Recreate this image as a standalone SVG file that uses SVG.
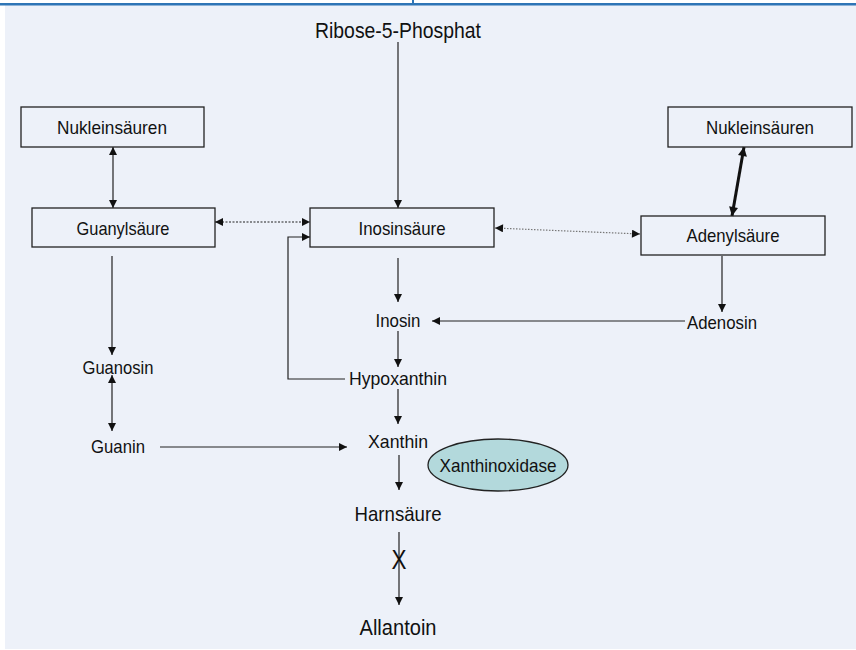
<svg xmlns="http://www.w3.org/2000/svg" width="856" height="650" viewBox="0 0 856 650">
<defs>
<style>
.t{font-family:"Liberation Sans","DejaVu Sans",sans-serif;font-size:19px;fill:#111;text-anchor:middle}
.box{fill:none;stroke:#222;stroke-width:1.3}
.ln{fill:none;stroke:#222;stroke-width:1.2}
.dot{fill:none;stroke:#222;stroke-width:1.2;stroke-dasharray:2 1.5}
.dot2{fill:none;stroke:#777;stroke-width:1.2;stroke-dasharray:1.5 1.5}
</style>
<marker id="a" viewBox="0 0 10 10" refX="10" refY="5" markerWidth="9" markerHeight="8" markerUnits="userSpaceOnUse" orient="auto-start-reverse"><path d="M0,0 L10,5 L0,10 z" fill="#111"/></marker>
<marker id="ab" viewBox="0 0 10 10" refX="10" refY="5" markerWidth="10" markerHeight="9" markerUnits="userSpaceOnUse" orient="auto-start-reverse"><path d="M0,0 L10,5 L0,10 z" fill="#111"/></marker>
</defs>
<rect x="0" y="0" width="856" height="650" fill="#ffffff"/>
<rect x="5" y="5" width="851" height="644" fill="#EDF1F9"/>
<rect x="0" y="3" width="856" height="2.5" fill="#2E75B6"/>
<rect x="412" y="0" width="2" height="5" fill="#2E75B6"/>

<g id="connectors">
<line class="ln" x1="398" y1="42" x2="398" y2="208" marker-end="url(#a)"/>
<line class="ln" x1="113" y1="147" x2="113" y2="208" marker-start="url(#a)" marker-end="url(#a)"/>
<line class="dot" x1="215" y1="222" x2="310" y2="222" marker-start="url(#a)" marker-end="url(#a)"/>
<line class="dot2" x1="495" y1="228" x2="640" y2="234" marker-start="url(#a)" marker-end="url(#a)"/>
<line x1="744" y1="147" x2="732" y2="216" stroke="#111" stroke-width="3" marker-start="url(#ab)" marker-end="url(#ab)"/>
<polyline class="ln" points="345,379 288,379 288,237 310,237" marker-end="url(#a)"/>
<line class="ln" x1="398" y1="258" x2="398" y2="302" marker-end="url(#a)"/>
<line class="ln" x1="722" y1="256" x2="722" y2="312" marker-end="url(#a)"/>
<line class="ln" x1="685" y1="321" x2="432" y2="321" marker-end="url(#a)"/>
<line class="ln" x1="398" y1="331" x2="398" y2="367" marker-end="url(#a)"/>
<line class="ln" x1="398" y1="389" x2="398" y2="424" marker-end="url(#a)"/>
<line class="ln" x1="112" y1="256" x2="112" y2="355" marker-end="url(#a)"/>
<line class="ln" x1="112" y1="375" x2="112" y2="431" marker-start="url(#a)" marker-end="url(#a)"/>
<line class="ln" x1="160" y1="447" x2="347" y2="447" marker-end="url(#a)"/>
<line class="ln" x1="399" y1="455" x2="399" y2="490" marker-end="url(#a)"/>
<line class="ln" x1="399" y1="532" x2="399" y2="605" marker-end="url(#a)"/>
</g>

<g id="ribose"><text class="t" x="398" y="38" style="font-size:21.5px" textLength="166" lengthAdjust="spacingAndGlyphs">Ribose-5-Phosphat</text></g>
<g id="nuk-left"><rect class="box" x="21" y="107" width="183" height="40"/><text class="t" x="112" y="134" textLength="110" lengthAdjust="spacingAndGlyphs">Nukleinsäuren</text></g>
<g id="guanylsaeure"><rect class="box" x="32" y="208" width="183" height="39"/><text class="t" x="123" y="235" textLength="93" lengthAdjust="spacingAndGlyphs">Guanylsäure</text></g>
<g id="inosinsaeure"><rect class="box" x="310" y="208" width="184" height="39"/><text class="t" x="402" y="235" textLength="87" lengthAdjust="spacingAndGlyphs">Inosinsäure</text></g>
<g id="nuk-right"><rect class="box" x="668" y="107" width="184" height="40"/><text class="t" x="760" y="134" textLength="108" lengthAdjust="spacingAndGlyphs">Nukleinsäuren</text></g>
<g id="adenylsaeure"><rect class="box" x="641" y="216" width="184" height="39"/><text class="t" x="733" y="242" textLength="93" lengthAdjust="spacingAndGlyphs">Adenylsäure</text></g>
<g id="adenosin"><text class="t" x="722" y="329" textLength="70" lengthAdjust="spacingAndGlyphs">Adenosin</text></g>
<g id="inosin"><text class="t" x="398" y="327" textLength="45" lengthAdjust="spacingAndGlyphs">Inosin</text></g>
<g id="hypoxanthin"><text class="t" x="398" y="385" textLength="98" lengthAdjust="spacingAndGlyphs">Hypoxanthin</text></g>
<g id="guanosin"><text class="t" x="118" y="374" textLength="71" lengthAdjust="spacingAndGlyphs">Guanosin</text></g>
<g id="guanin"><text class="t" x="118" y="453" textLength="54" lengthAdjust="spacingAndGlyphs">Guanin</text></g>
<g id="xanthin"><text class="t" x="398" y="448" textLength="60" lengthAdjust="spacingAndGlyphs">Xanthin</text></g>
<g id="xanthinoxidase"><ellipse cx="498" cy="465" rx="70" ry="26" fill="#B3D9DC" stroke="#222" stroke-width="1.3"/><text class="t" x="498" y="472" textLength="117" lengthAdjust="spacingAndGlyphs">Xanthinoxidase</text></g>
<g id="harnsaeure"><text class="t" x="398" y="521" style="font-size:21px" textLength="87" lengthAdjust="spacingAndGlyphs">Harnsäure</text></g>
<g id="block"><text class="t" x="399" y="569" style="font-size:28px" textLength="15" lengthAdjust="spacingAndGlyphs">X</text></g>
<g id="allantoin"><text class="t" x="398" y="635" style="font-size:22px" textLength="77" lengthAdjust="spacingAndGlyphs">Allantoin</text></g>
</svg>
